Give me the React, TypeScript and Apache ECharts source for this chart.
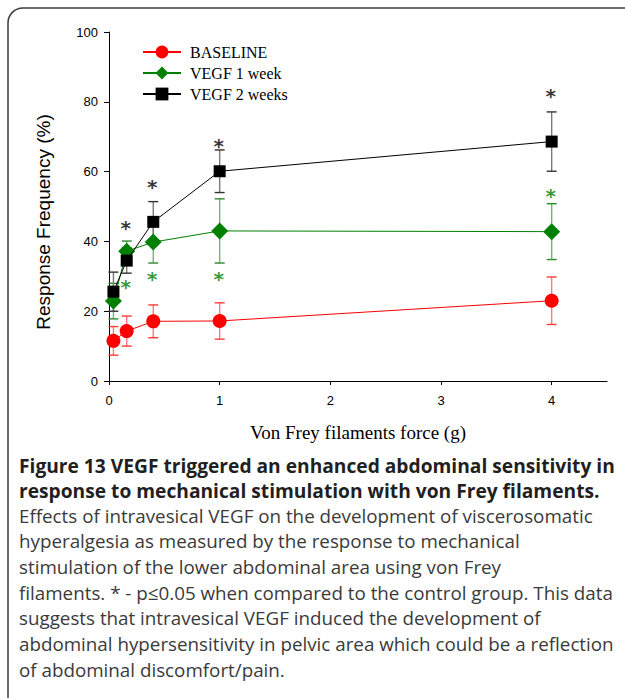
import React, { useEffect, useRef } from "react";
import * as echarts from "echarts";

const forces = [0.04, 0.16, 0.4, 1, 4];
const xTicks = [0, 1, 2, 3, 4];
const yTicks = [0, 20, 40, 60, 80, 100];

const baseline = [11.5, 14.3, 17.1, 17.2, 23.0];
const baselineErr = [4.1, 4.3, 4.7, 5.2, 6.8];
const vegf1 = [22.9, 37.2, 39.8, 43.0, 42.8];
const vegf1Err = [5.1, 2.9, 6.0, 9.2, 8.0];
const vegf2 = [25.6, 34.5, 45.6, 60.1, 68.6];
const vegf2Err = [5.6, 3.6, 5.8, 6.1, 8.5];

const vegf1Sig = [null, 28.1, 30.4, 30.4, 54.2];
const vegf2Sig = [null, 45.0, 56.8, 68.4, 82.9];

const seriesNames = ["BASELINE", "VEGF 1 week", "VEGF 2 weeks"];

const captionBold = [
  "Figure 13 VEGF triggered an enhanced abdominal sensitivity in",
  "response to mechanical stimulation with von Frey filaments.",
];
const captionBody = [
  "Effects of intravesical VEGF on the development of viscerosomatic",
  "hyperalgesia as measured by the response to mechanical",
  "stimulation of the lower abdominal area using von Frey",
  "filaments. * - p\u22640.05 when compared to the control group. This data",
  "suggests that intravesical VEGF induced the development of",
  "abdominal hypersensitivity in pelvic area which could be a reflection",
  "of abdominal discomfort/pain.",
];

function errData(vals: number[], errs: number[]) {
  return forces.map((x, i) => [x, vals[i] - errs[i], vals[i] + errs[i]]);
}

function errSeries(name: string, vals: number[], errs: number[], stem: string, cap: string) {
  return {
    type: "custom",
    name,
    z: 1,
    silent: true,
    encode: { x: 0, y: [1, 2] },
    data: errData(vals, errs),
    renderItem: (params: any, api: any) => {
      const x = api.value(0);
      const lo = api.value(1);
      const hi = api.value(2);
      const top = api.coord([x, hi]);
      const bot = api.coord([x, lo]);
      const hw = 5;
      return {
        type: "group",
        children: [
          { type: "line", shape: { x1: top[0], y1: top[1], x2: bot[0], y2: bot[1] }, style: { stroke: stem, lineWidth: 1.4 } },
          { type: "line", shape: { x1: top[0] - hw, y1: top[1], x2: top[0] + hw, y2: top[1] }, style: { stroke: cap, lineWidth: 1.4 } },
          { type: "line", shape: { x1: bot[0] - hw, y1: bot[1], x2: bot[0] + hw, y2: bot[1] }, style: { stroke: cap, lineWidth: 1.4 } },
        ],
      };
    },
  };
}

function sigSeries(name: string, vals: (number | null)[], color: string) {
  return {
    type: "scatter",
    name,
    z: 5,
    silent: true,
    symbolSize: 1,
    itemStyle: { color: "rgba(0,0,0,0)" },
    data: forces.map((x, i) => (vals[i] == null ? null : [x, vals[i]])).filter((d) => d),
    label: {
      show: true,
      position: "inside",
      formatter: "*",
      color,
      fontFamily: "DejaVu Sans",
      fontWeight: "bold",
      fontSize: 20,
      offset: [-1, 4],
    },
  };
}

export default function App() {
  const ref = useRef<HTMLDivElement>(null);
  useEffect(() => {
    document.body.style.margin = "0";
    const chart = echarts.init(ref.current!, null, { renderer: "svg" });
    const captionGraphics: any[] = [];
    captionBold.forEach((t, i) => {
      captionGraphics.push({
        type: "text",
        x: 19,
        y: 465 + i * 25.5,
        style: {
          text: t,
          fontFamily: "Open Sans",
          fontWeight: "bold",
          fontSize: 19.2,
          fill: "#231f20",
          textAlign: "left",
          textVerticalAlign: "middle",
        },
      });
    });
    captionBody.forEach((t, i) => {
      captionGraphics.push({
        type: "text",
        x: 19,
        y: 515.5 + i * 25.7,
        style: {
          text: t,
          fontFamily: "Open Sans",
          fontSize: 18.8,
          fill: "#3a3a3a",
          textAlign: "left",
          textVerticalAlign: "middle",
        },
      });
    });
    chart.setOption({
      animation: false,
      backgroundColor: "#ffffff",
      grid: { left: 109, right: 18, top: 32, bottom: 317, containLabel: false },
      legend: {
        data: seriesNames,
        orient: "vertical",
        left: 137,
        top: 39,
        itemWidth: 38,
        itemHeight: 16,
        itemGap: 5,
        textStyle: { fontFamily: "Liberation Serif", fontSize: 16, color: "#000", padding: [0, 0, 0, 4], lineHeight: 16 },
      },
      xAxis: {
        type: "value",
        min: 0,
        max: 4.5,
        interval: 1,
        name: "Von Frey filaments force (g)",
        nameLocation: "middle",
        nameGap: 42,
        nameTextStyle: { fontFamily: "Liberation Serif", fontSize: 19, color: "#000" },
        axisLine: { show: true, onZero: false, lineStyle: { color: "#000", width: 1 } },
        axisTick: { show: true, inside: false, length: 4, customValues: xTicks, lineStyle: { color: "#000" } },
        axisLabel: { customValues: xTicks, margin: 13, fontFamily: "Liberation Sans", fontSize: 13, color: "#000" },
        splitLine: { show: false },
      },
      yAxis: {
        type: "value",
        min: 0,
        max: 100,
        interval: 20,
        axisLine: { show: true, lineStyle: { color: "#000", width: 1 } },
        axisTick: { show: true, inside: false, length: 5, lineStyle: { color: "#000" } },
        axisLabel: { margin: 11, fontFamily: "Liberation Sans", fontSize: 13, color: "#000", customValues: yTicks },
        splitLine: { show: false },
      },
      graphic: [
        {
          type: "rect",
          shape: { x: 8, y: 8, width: 680, height: 706, r: 15 },
          style: { fill: "none", stroke: "#3c3c3c", lineWidth: 1.5 },
          silent: true,
        },
        {
          type: "text",
          x: 43,
          y: 222,
          rotation: Math.PI / 2,
          style: {
            text: "Response Frequency (%)",
            fontFamily: "Liberation Sans",
            fontSize: 19,
            fill: "#000",
            textAlign: "center",
            textVerticalAlign: "middle",
          },
        },
        ...captionGraphics,
      ],
      series: [
        errSeries("err-baseline", baseline, baselineErr, "#ff7a7a", "#ff3a3a"),
        errSeries("err-vegf1", vegf1, vegf1Err, "#6fb96f", "#2e8a2e"),
        errSeries("err-vegf2", vegf2, vegf2Err, "#7a7a7a", "#333333"),
        {
          type: "line",
          name: seriesNames[0],
          data: forces.map((x, i) => [x, baseline[i]]),
          symbol: "circle",
          symbolSize: 14,
          itemStyle: { color: "#ff0000" },
          lineStyle: { color: "#ff0000", width: 1 },
          z: 3,
        },
        {
          type: "line",
          name: seriesNames[1],
          data: forces.map((x, i) => [x, vegf1[i]]),
          symbol: "diamond",
          symbolSize: 17,
          itemStyle: { color: "#008000" },
          lineStyle: { color: "#008000", width: 1 },
          z: 3,
        },
        {
          type: "line",
          name: seriesNames[2],
          data: forces.map((x, i) => [x, vegf2[i]]),
          symbol: "rect",
          symbolSize: 12,
          itemStyle: { color: "#000000" },
          lineStyle: { color: "#000000", width: 1 },
          z: 4,
        },
        sigSeries("sig-vegf1", vegf1Sig, "#008000"),
        sigSeries("sig-vegf2", vegf2Sig, "#000000"),
      ],
    });
    return () => chart.dispose();
  }, []);
  return <div ref={ref} style={{ width: 625, height: 698 }} />;
}
